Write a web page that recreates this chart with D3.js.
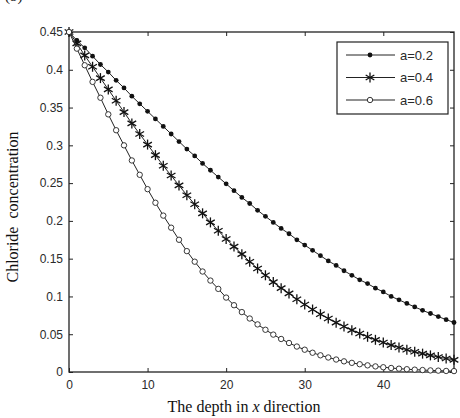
<!DOCTYPE html>
<html>
<head>
<meta charset="utf-8">
<script src="https://cdn.jsdelivr.net/npm/d3@7"></script>
<style>
  body { margin: 0; background: #fff; }
  svg { display: block; }
</style>
</head>
<body>
<div id="chart"></div>
<script>
// depth x = 0..49
const depth = d3.range(0, 50);

// chloride concentration
const a02 = [0.450, 0.439, 0.429, 0.418, 0.407, 0.397, 0.386, 0.376, 0.365, 0.355,
  0.345, 0.335, 0.325, 0.315, 0.305, 0.295, 0.286, 0.276, 0.267, 0.258,
  0.249, 0.240, 0.231, 0.223, 0.214, 0.206, 0.198, 0.190, 0.183, 0.175,
  0.168, 0.161, 0.154, 0.147, 0.141, 0.134, 0.128, 0.122, 0.117, 0.111,
  0.106, 0.100, 0.0955, 0.0907, 0.0861, 0.0816, 0.0774, 0.0733, 0.0693, 0.0655];

const a04 = [0.450, 0.435, 0.419, 0.404, 0.389, 0.374, 0.359, 0.344, 0.329, 0.315,
  0.301, 0.287, 0.273, 0.260, 0.247, 0.234, 0.222, 0.210, 0.198, 0.187,
  0.176, 0.166, 0.156, 0.146, 0.137, 0.128, 0.119, 0.111, 0.104, 0.0963,
  0.0893, 0.0827, 0.0765, 0.0708, 0.0653, 0.0602, 0.0554, 0.0509, 0.0466, 0.0426,
  0.0390, 0.0356, 0.0324, 0.0295, 0.0268, 0.0243, 0.0220, 0.0198, 0.0179, 0.0161];

const a06 = [0.450, 0.428, 0.406, 0.384, 0.363, 0.341, 0.320, 0.300, 0.280, 0.261,
  0.242, 0.224, 0.207, 0.191, 0.175, 0.160, 0.146, 0.133, 0.121, 0.110,
  0.0985, 0.0884, 0.0793, 0.0708, 0.0630, 0.0559, 0.0495, 0.0437, 0.0384, 0.0337,
  0.0295, 0.0255, 0.0221, 0.0192, 0.0165, 0.0141, 0.0121, 0.0103, 0.0088, 0.0074,
  0.0063, 0.0053, 0.0044, 0.0037, 0.0031, 0.0026, 0.0021, 0.0018, 0.0014, 0.0012];

const seriesNames = ["a=0.2", "a=0.4", "a=0.6"];
const markers = ["dot", "star", "circle"];
const xTicks = [0, 10, 20, 30, 40];
const yTicks = [0, 0.05, 0.1, 0.15, 0.2, 0.25, 0.3, 0.35, 0.4, 0.45];

const width = 460, height = 418;
const margin = { top: 32, right: 6, bottom: 46, left: 69 };

const svg = d3.select("#chart").append("svg")
  .attr("width", width)
  .attr("height", height);

const x = d3.scaleLinear().domain([0, 49]).range([margin.left, width - margin.right]);
const y = d3.scaleLinear().domain([0, 0.45]).range([height - margin.bottom, margin.top]);

// panel letter, cut off by the top edge as in the source
svg.append("text")
  .attr("x", 5).attr("y", 1)
  .style("font", "15px 'Liberation Serif', serif")
  .attr("fill", "#222")
  .text("(b)");

// axes (ticks inside)
const fmtY = d => d === 0 ? "0" : d3.format("")(+d.toFixed(2));
const axisStyle = g => {
  g.select(".domain").remove();
  g.selectAll("line").attr("stroke", "#222");
  g.selectAll("text").attr("fill", "#2a2a2a")
    .style("font", "12px 'Liberation Sans', Arial, sans-serif");
};

svg.append("g")
  .attr("transform", `translate(0,${y(0)})`)
  .call(d3.axisBottom(x).tickValues(xTicks).tickSizeInner(-4).tickSizeOuter(0).tickPadding(8))
  .call(axisStyle);

svg.append("g")
  .attr("transform", `translate(0,${y(0.45)})`)
  .call(d3.axisTop(x).tickValues(xTicks).tickSizeInner(-4).tickSizeOuter(0).tickFormat(""))
  .call(axisStyle);

svg.append("g")
  .attr("transform", `translate(${x(0)},0)`)
  .call(d3.axisLeft(y).tickValues(yTicks).tickSizeInner(-4).tickSizeOuter(0).tickPadding(6).tickFormat(fmtY))
  .call(axisStyle);

svg.append("g")
  .attr("transform", `translate(${x(49)},0)`)
  .call(d3.axisRight(y).tickValues(yTicks).tickSizeInner(-4).tickSizeOuter(0).tickFormat(""))
  .call(axisStyle);

// frame
svg.append("rect")
  .attr("x", x(0)).attr("y", y(0.45))
  .attr("width", x(49) - x(0)).attr("height", y(0) - y(0.45))
  .attr("fill", "none").attr("stroke", "#222").attr("stroke-width", 1.3);

// curves
const line = d3.line().x((d, i) => x(depth[i])).y(d => y(d));
const allSeries = [a02, a04, a06];

function drawMarker(g, type, cx, cy) {
  if (type === "dot") {
    g.append("circle").attr("cx", cx).attr("cy", cy).attr("r", 2.4).attr("fill", "#111");
  } else if (type === "circle") {
    g.append("circle").attr("cx", cx).attr("cy", cy).attr("r", 2.7)
      .attr("fill", "#fff").attr("stroke", "#222").attr("stroke-width", 0.9);
  } else {
    const r = 5;
    for (let k = 0; k < 3; k++) {
      const ang = Math.PI / 2 + k * Math.PI / 3;
      g.append("line")
        .attr("x1", cx - r * Math.cos(ang)).attr("y1", cy - r * Math.sin(ang))
        .attr("x2", cx + r * Math.cos(ang)).attr("y2", cy + r * Math.sin(ang))
        .attr("stroke", "#111").attr("stroke-width", 1.3);
    }
  }
}

allSeries.forEach((vals, s) => {
  const g = svg.append("g");
  g.append("path")
    .attr("d", line(vals))
    .attr("fill", "none")
    .attr("stroke", "#222")
    .attr("stroke-width", 1);
  vals.forEach((v, i) => drawMarker(g, markers[s], x(depth[i]), y(v)));
});

// legend
const legend = svg.append("g");
legend.append("rect")
  .attr("x", 337).attr("y", 42).attr("width", 111).attr("height", 72)
  .attr("fill", "#fff").attr("stroke", "#222").attr("stroke-width", 1.2);

seriesNames.forEach((name, s) => {
  const ly = 55 + s * 22.5;
  legend.append("line")
    .attr("x1", 346).attr("x2", 395).attr("y1", ly).attr("y2", ly)
    .attr("stroke", "#222").attr("stroke-width", 1);
  drawMarker(legend, markers[s], 370, ly);
  legend.append("text")
    .attr("x", 400).attr("y", ly + 4.5)
    .attr("fill", "#2a2a2a")
    .style("font", "13px 'Liberation Sans', Arial, sans-serif")
    .text(name);
});

// axis titles
const xt = svg.append("text")
  .attr("x", 244).attr("y", 412)
  .attr("text-anchor", "middle")
  .attr("fill", "#111")
  .style("font", "16px 'Liberation Serif', 'Times New Roman', serif");
xt.append("tspan").text("The depth in ");
xt.append("tspan").style("font-style", "italic").text("x");
xt.append("tspan").text(" direction");

svg.append("text")
  .attr("transform", "translate(18,207) rotate(-90)")
  .attr("text-anchor", "middle")
  .attr("fill", "#111")
  .style("font", "16px 'Liberation Serif', 'Times New Roman', serif")
  .style("white-space", "pre")
  .text("Chloride  concentration");
</script>
</body>
</html>
